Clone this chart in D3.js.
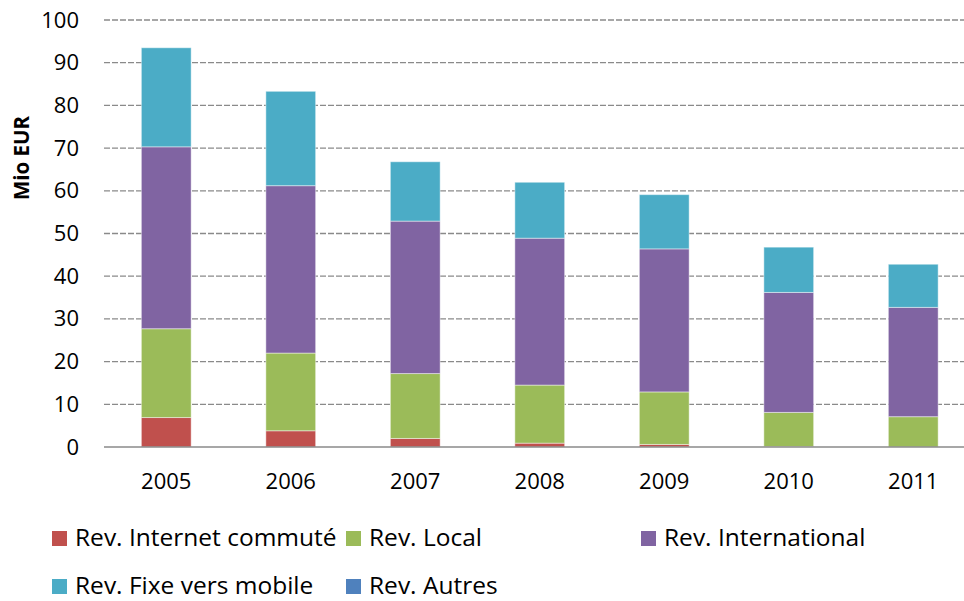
<!DOCTYPE html>
<html>
<head>
<meta charset="utf-8">
<script src="https://cdn.jsdelivr.net/npm/d3@7"></script>
<style>
  body { margin: 0; background: #fff; }
  text { font-family: "Open Sans", "Liberation Sans", sans-serif; fill: #000; }
</style>
</head>
<body>
<div id="chart"></div>
<script>
// values in Mio EUR
var years = ["2005", "2006", "2007", "2008", "2009", "2010", "2011"];
var internetCommute = [6.9, 3.8, 2.0, 0.9, 0.6, 0.1, 0.0];
var local = [20.8, 18.2, 15.2, 13.6, 12.3, 8.0, 7.1];
var international = [42.6, 39.2, 35.7, 34.4, 33.5, 28.1, 25.6];
var fixeMobile = [23.2, 22.1, 13.9, 13.1, 12.7, 10.6, 10.1];
var autres = [0, 0, 0, 0, 0, 0, 0];
var yTicks = [0, 10, 20, 30, 40, 50, 60, 70, 80, 90, 100];

var series = [
    {name: "Rev. Internet commuté", values: internetCommute, color: "#C0504D"},
    {name: "Rev. Local", values: local, color: "#9BBB59"},
    {name: "Rev. International", values: international, color: "#8064A2"},
    {name: "Rev. Fixe vers mobile", values: fixeMobile, color: "#4BACC6"},
    {name: "Rev. Autres", values: autres, color: "#4F81BD"}
];

var w = 964, h = 601;
var plotLeft = 104, plotRight = 975.5, plotTop = 20, plotBottom = 447;

var svg = d3.select("#chart").append("svg")
    .attr("width", w)
    .attr("height", h);

var x = d3.scaleBand()
    .domain(years)
    .range([plotLeft, plotRight])
    .paddingInner(0.6)
    .paddingOuter(0.3);

var y = d3.scaleLinear()
    .domain([0, 100])
    .range([plotBottom, plotTop]);

// gridlines
svg.selectAll(".grid")
    .data(yTicks.filter(function(d) { return d > 0; }))
    .enter()
    .append("line")
    .attr("class", "grid")
    .attr("x1", plotLeft)
    .attr("x2", w)
    .attr("y1", function(d) { return y(d); })
    .attr("y2", function(d) { return y(d); })
    .attr("stroke", "#8a8a8a")
    .attr("stroke-width", 1.3)
    .attr("stroke-dasharray", "6,2");

// y axis labels
var yAxis = d3.axisLeft(y).tickValues(yTicks).tickSize(0).tickPadding(25);
var gy = svg.append("g")
    .attr("transform", "translate(" + plotLeft + ",0)")
    .call(yAxis);
gy.select(".domain").remove();
gy.selectAll("text")
    .style("font-size", "22px")
    .style("font-family", "'Open Sans', sans-serif")
    .attr("fill", "#000");

svg.append("text")
    .attr("transform", "translate(29,158) rotate(-90)")
    .attr("text-anchor", "middle")
    .style("font-size", "20.5px")
    .style("font-weight", "bold")
    .text("Mio EUR");

// stacked bars
var stacked = years.map(function(yr, i) {
    var row = {year: yr};
    series.forEach(function(s) { row[s.name] = s.values[i]; });
    return row;
});
var stack = d3.stack().keys(series.map(function(s) { return s.name; }));
var layers = stack(stacked);

svg.selectAll(".layer")
    .data(layers)
    .enter()
    .append("g")
    .attr("class", "layer")
    .attr("fill", function(d, i) { return series[i].color; })
    .selectAll("rect")
    .data(function(d) { return d; })
    .enter()
    .append("rect")
    .attr("x", function(d) { return x(d.data.year); })
    .attr("width", x.bandwidth())
    .attr("y", function(d) { return y(d[1]); })
    .attr("height", function(d) { return y(d[0]) - y(d[1]); })
    .attr("stroke", "rgba(255,255,255,0.45)")
    .attr("stroke-width", 1);

// x axis
svg.append("line")
    .attr("x1", plotLeft)
    .attr("x2", w)
    .attr("y1", plotBottom)
    .attr("y2", plotBottom)
    .attr("stroke", "#8a8a8a")
    .attr("stroke-width", 1.5);

svg.selectAll(".xlabel")
    .data(years)
    .enter()
    .append("text")
    .attr("class", "xlabel")
    .attr("x", function(d) { return x(d) + x.bandwidth() / 2; })
    .attr("y", 489)
    .attr("text-anchor", "middle")
    .style("font-size", "22px")
    .text(function(d) { return d; });

// legend (position = text baseline)
var legendPos = [[52, 546], [346, 546], [641, 546], [52, 594], [346, 594]];
var legend = svg.selectAll(".legend")
    .data(series)
    .enter()
    .append("g")
    .attr("class", "legend")
    .attr("transform", function(d, i) { return "translate(" + legendPos[i][0] + "," + legendPos[i][1] + ")"; });

legend.append("rect")
    .attr("x", 0)
    .attr("y", -15)
    .attr("width", 15)
    .attr("height", 15)
    .attr("fill", function(d) { return d.color; });

legend.append("text")
    .attr("x", 23)
    .attr("y", 0)
    .style("font-size", "24.5px")
    .text(function(d) { return d.name; });
</script>
</body>
</html>
